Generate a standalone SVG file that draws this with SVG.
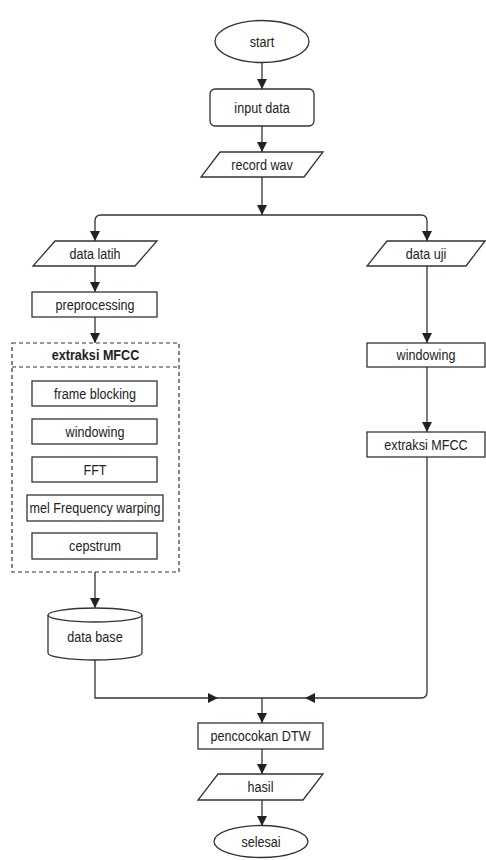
<svg xmlns="http://www.w3.org/2000/svg" width="486" height="860" viewBox="0 0 486 860">
<defs>
<marker id="arr" markerUnits="userSpaceOnUse" markerWidth="10" markerHeight="10" viewBox="0 0 10 10" refX="10" refY="5" orient="auto">
<path d="M0,0 L10,5 L0,10 z" fill="#222"/>
</marker>
</defs>
<style>
.s{fill:#fff;stroke:#333;stroke-width:1.3}
.d{fill:none;stroke:#333;stroke-width:1.2;stroke-dasharray:4 3}
.c{fill:none;stroke:#333;stroke-width:1.3}
.a{fill:none;stroke:#333;stroke-width:1.3;marker-end:url(#arr)}
text{font-family:"Liberation Sans",Arial,sans-serif;font-size:15px;fill:#222;text-anchor:middle;dominant-baseline:central}
.b{font-weight:bold}
</style>
<rect width="486" height="860" fill="#fff"/>
<g id="connectors">
<path class="a" d="M262 62.5 V89"/>
<path class="a" d="M262 126 V152"/>
<path class="a" d="M262 177 V215"/>
<path class="a" d="M262 215 H101 Q95 215 95 221 V241"/>
<path class="a" d="M262 215 H421 Q427 215 427 221 V241"/>
<path class="a" d="M95 266 V292"/>
<path class="a" d="M95 317 V343"/>
<path class="a" d="M95 572 V608"/>
<path class="a" d="M427 266 V343"/>
<path class="a" d="M427 367 V432"/>
<path class="a" d="M95 660 V698 H218"/>
<path class="c" d="M218 698 H262"/>
<path class="a" d="M427 457 V692 Q427 698 421 698 H305"/>
<path class="c" d="M305 698 H262"/>
<path class="a" d="M262 698 V723"/>
<path class="a" d="M262 749 V774"/>
<path class="a" d="M262 800 V826"/>
</g>
<g id="start"><ellipse class="s" cx="262" cy="41.5" rx="47" ry="21"/><text transform="translate(262 41.5) scale(0.84 1)">start</text></g>
<g id="input-data"><rect class="s" x="210" y="89" width="104" height="37" rx="5"/><text transform="translate(262 107.5) scale(0.84 1)">input data</text></g>
<g id="record-wav"><polygon class="s" points="220,152 323,152 304,177 201,177"/><text transform="translate(262 164.5) scale(0.84 1)">record wav</text></g>
<g id="data-latih"><polygon class="s" points="55,241 157,241 135,266 33,266"/><text transform="translate(95 253.5) scale(0.84 1)">data latih</text></g>
<g id="preprocessing"><rect class="s" x="32" y="292" width="125" height="25"/><text transform="translate(95 304.5) scale(0.84 1)">preprocessing</text></g>
<g id="extraksi-mfcc-group">
<rect class="d" x="12" y="343" width="167" height="229"/>
<line class="d" x1="12" y1="367" x2="179" y2="367"/>
<text class="b" transform="translate(95.5 355) scale(0.84 1)">extraksi MFCC</text>
</g>
<g id="frame-blocking"><rect class="s" x="32" y="381" width="125" height="25"/><text transform="translate(95 393.5) scale(0.84 1)">frame blocking</text></g>
<g id="windowing-1"><rect class="s" x="32" y="419" width="125" height="25"/><text transform="translate(95 431.5) scale(0.84 1)">windowing</text></g>
<g id="fft"><rect class="s" x="32" y="457" width="125" height="25"/><text transform="translate(95 469.5) scale(0.84 1)">FFT</text></g>
<g id="mel"><rect class="s" x="27" y="495" width="136" height="26"/><text transform="translate(95 508) scale(0.84 1)">mel Frequency warping</text></g>
<g id="cepstrum"><rect class="s" x="32" y="533" width="125" height="26"/><text transform="translate(95 546) scale(0.84 1)">cepstrum</text></g>
<g id="database">
<path class="s" d="M48 615 A47 7 0 0 1 142 615 V653 A47 7 0 0 1 48 653 Z"/>
<path class="c" d="M48 615 A47 7 0 0 0 142 615"/>
<text transform="translate(95 637) scale(0.84 1)">data base</text>
</g>
<g id="data-uji"><polygon class="s" points="387,241 485,241 466,266 367,266"/><text transform="translate(426 253.5) scale(0.84 1)">data uji</text></g>
<g id="windowing-2"><rect class="s" x="367" y="343" width="118" height="24"/><text transform="translate(426 355) scale(0.84 1)">windowing</text></g>
<g id="extraksi-mfcc-2"><rect class="s" x="367" y="432" width="118" height="25"/><text transform="translate(426 444.5) scale(0.84 1)">extraksi MFCC</text></g>
<g id="pencocokan"><rect class="s" x="198" y="723" width="125" height="26"/><text transform="translate(260.5 736) scale(0.84 1)">pencocokan DTW</text></g>
<g id="hasil"><polygon class="s" points="218,774 323,774 303,800 198,800"/><text transform="translate(260.5 787) scale(0.84 1)">hasil</text></g>
<g id="selesai"><ellipse class="s" cx="261" cy="841.5" rx="47" ry="16"/><text transform="translate(261 841.5) scale(0.84 1)">selesai</text></g>
</svg>
